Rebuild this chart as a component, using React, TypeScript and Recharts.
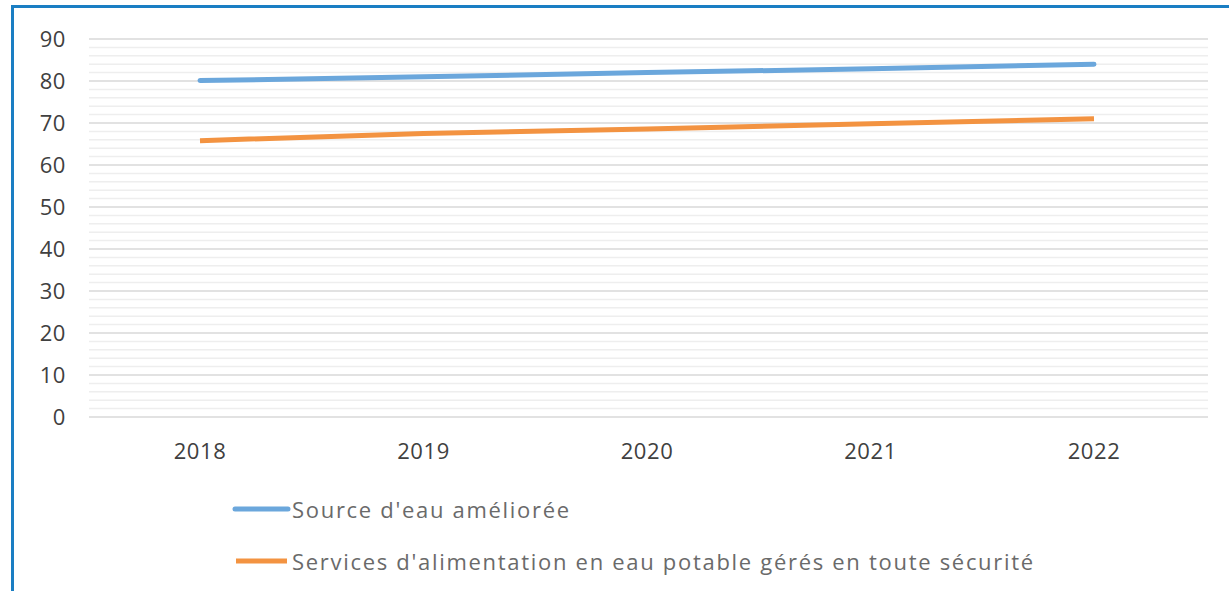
import React from 'react';
import { LineChart, Line, XAxis, YAxis, CartesianGrid, Legend, ReferenceLine } from 'recharts';

const years = ['2018', '2019', '2020', '2021', '2022'];
const improvedSource = [80.1, 81.0, 82.0, 82.9, 84.0];
const safelyManaged = [65.8, 67.5, 68.6, 69.8, 71.0];
const majorTicks = [0, 10, 20, 30, 40, 50, 60, 70, 80, 90];
const minorTicks = [
  2, 4, 6, 8, 12, 14, 16, 18, 22, 24, 26, 28, 32, 34, 36, 38, 42, 44, 46, 48,
  52, 54, 56, 58, 62, 64, 66, 68, 72, 74, 76, 78, 82, 84, 86, 88,
];
const seriesNames = [
  "Source d'eau améliorée",
  "Services d'alimentation en eau potable gérés en toute sécurité",
];
const seriesColors = ['#6ba7dc', '#f39341'];

const data = years.map((year, i) => ({
  year,
  source: improvedSource[i],
  services: safelyManaged[i],
}));

const FONT = '"Open Sans", "DejaVu Sans", sans-serif';

const renderLegend = () => (
  <div style={{ display: 'flex', flexDirection: 'column', fontFamily: FONT }}>
    {seriesNames.map((name, i) => (
      <div key={name} style={{ display: 'flex', alignItems: 'center', height: 52 }}>
        <svg width={60} height={10} style={{ display: 'block' }}>
          <line
            x1={i === 0 ? 4 : 5}
            x2={i === 0 ? 57 : 56}
            y1={5}
            y2={5}
            stroke={seriesColors[i]}
            strokeWidth={5}
            strokeLinecap={i === 0 ? 'round' : 'butt'}
          />
        </svg>
        <span
          style={{
            fontSize: 22,
            color: '#6a6a6a',
            marginLeft: 1,
            whiteSpace: 'nowrap',
            letterSpacing: 1.7,
          }}
        >
          {name}
        </span>
      </div>
    ))}
  </div>
);

export default function App() {
  return (
    <div
      style={{
        position: 'fixed',
        left: 0,
        top: 0,
        width: 1229,
        height: 591,
        background: '#ffffff',
        overflow: 'hidden',
      }}
    >
      <div
        style={{
          position: 'absolute',
          left: 11,
          top: 5,
          width: 1240,
          height: 600,
          border: '3px solid #1a7ec3',
          boxSizing: 'border-box',
        }}
      />
      <div style={{ position: 'absolute', left: 0, top: 0 }}>
        <LineChart
          width={1229}
          height={591}
          data={data}
          margin={{ top: 39, right: 21, left: 0, bottom: 134 }}
        >
          <CartesianGrid vertical={false} stroke="#d9d9d9" strokeWidth={1.5} />
          {minorTicks.map((t) => (
            <ReferenceLine key={t} y={t} stroke="#eeeeee" strokeWidth={1.5} />
          ))}
          <XAxis
            dataKey="year"
            axisLine={false}
            tickLine={false}
            tickSize={0}
            tickMargin={26}
            height={40}
            padding={{ left: 111, right: 114 }}
            tick={{ fill: '#404040', fontSize: 22, fontFamily: FONT, letterSpacing: 0.6 }}
          />
          <YAxis
            domain={[0, 90]}
            ticks={majorTicks}
            interval={0}
            axisLine={false}
            tickLine={false}
            tickSize={0}
            tickMargin={23}
            width={89}
            tick={{ fill: '#404040', fontSize: 22, fontFamily: FONT, letterSpacing: 0.6 }}
          />
          <Line
            dataKey="source"
            name={seriesNames[0]}
            stroke={seriesColors[0]}
            strokeWidth={5}
            strokeLinecap="round"
            dot={false}
            activeDot={false}
            isAnimationActive={false}
          />
          <Line
            dataKey="services"
            name={seriesNames[1]}
            stroke={seriesColors[1]}
            strokeWidth={5}
            strokeLinecap="butt"
            dot={false}
            activeDot={false}
            isAnimationActive={false}
          />
          <Legend
            layout="vertical"
            align="center"
            verticalAlign="middle"
            content={renderLegend}
            wrapperStyle={{ top: 483, left: 231, width: 900, height: 104 }}
          />
        </LineChart>
      </div>
    </div>
  );
}
